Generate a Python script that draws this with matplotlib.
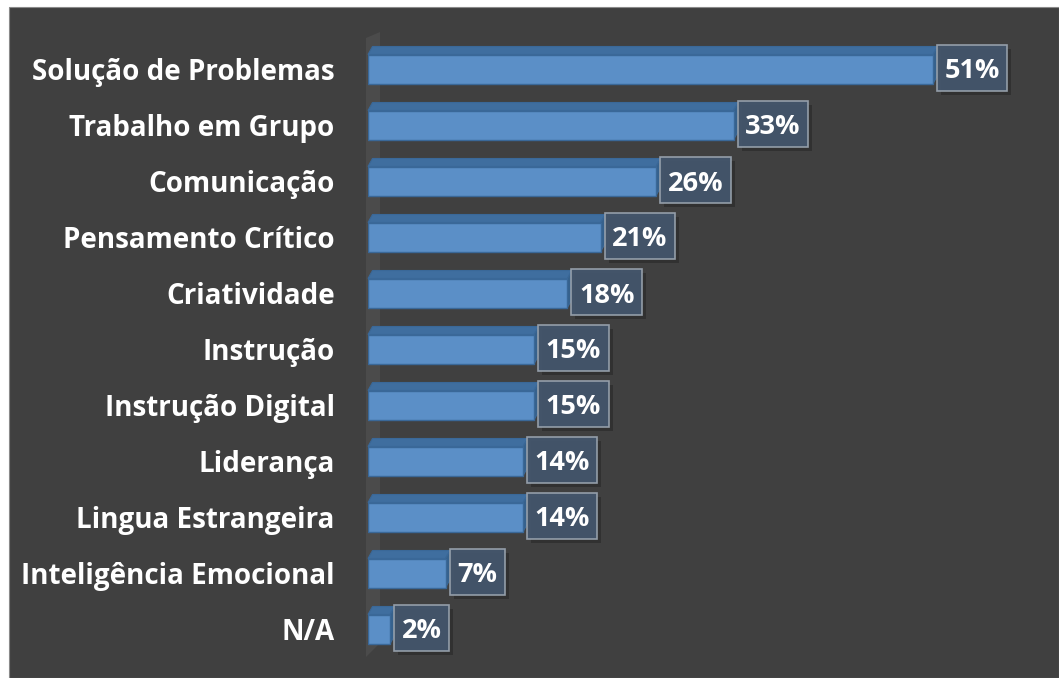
import matplotlib
matplotlib.use("Agg")
import matplotlib.pyplot as plt
from matplotlib.patches import Polygon, Rectangle

# ==========================================================
# Dados
# ==========================================================
categorias = [
    "Solução de Problemas", "Trabalho em Grupo", "Comunicação",
    "Pensamento Crítico", "Criatividade", "Instrução",
    "Instrução Digital", "Liderança", "Lingua Estrangeira",
    "Inteligência Emocional", "N/A",
]
valores = [51, 33, 26, 21, 18, 15, 15, 14, 14, 7, 2]
rotulos = [f"{v}%" for v in valores]

# ==========================================================
# Estilo
# ==========================================================
FUNDO = "#404040"
FRENTE = "#5b8fc7"
TOPO = "#3f6e9f"
LATERAL = "#36618c"
BORDA = "#3a6898"
CAIXA = "#44566c"
plt.rcParams["font.family"] = ["Open Sans", "DejaVu Sans"]

W, H, DPI = 1059, 678, 100
fig = plt.figure(figsize=(W / DPI, H / DPI), dpi=DPI, facecolor="white")
# fundo escuro com margem branca em cima e à esquerda
fig.patches.append(Rectangle((9 / W, 0), 1 - 9 / W, (H - 7) / H,
                             transform=fig.transFigure, facecolor=FUNDO,
                             edgecolor="#8a8a8a", lw=0.8, zorder=-5))

px_x = 11.08   # pixels por ponto percentual
px_y = 56.0    # pixels por categoria
x0, y0 = 368, 69
ax = fig.add_axes([x0 / W, 0, 1 - x0 / W, 1])
ax.set_zorder(2)
ax.set_facecolor("none")
ax.set_xlim(0, (W - x0) / px_x)
ax.set_ylim((H - y0) / px_y, -y0 / px_y)

altura = 29 / px_y
dx = 4.5 / px_x
dy = 8 / px_y

# parede lateral (efeito 3D)
parede = Polygon([(-2 / px_x, (38 - y0) / px_y), (12 / px_x, (32 - y0) / px_y),
                  (12 / px_x, (643 - y0) / px_y), (-2 / px_x, (657 - y0) / px_y)],
                 closed=True, facecolor="#4b4b4b", edgecolor="none",
                 clip_on=False, zorder=1)
ax.add_patch(parede)

for i, v in enumerate(valores):
    topo_y = i - altura / 2
    base_y = i + altura / 2
    ax.add_patch(Polygon([(0, topo_y), (v, topo_y), (v + dx, topo_y - dy), (dx, topo_y - dy)],
                         closed=True, facecolor=TOPO, edgecolor=BORDA, lw=0.8,
                         clip_on=False, zorder=2))
    ax.add_patch(Polygon([(v, topo_y), (v + dx, topo_y - dy), (v + dx, base_y - dy), (v, base_y)],
                         closed=True, facecolor=LATERAL, edgecolor=BORDA, lw=0.8,
                         clip_on=False, zorder=2))

ax.barh(range(len(valores)), valores, height=altura, color=FRENTE,
        edgecolor=BORDA, linewidth=1.0, zorder=3)

ax.set_yticks(range(len(categorias)))
ax.set_yticklabels(categorias, fontsize=20, fontweight="bold", color="white")
ax.tick_params(axis="y", length=0, pad=24)
ax.set_xticks([])
for s in ax.spines.values():
    s.set_visible(False)

# rótulos de dados (texto + caixa desenhada depois de medir o texto)
textos = []
for i, (v, r) in enumerate(zip(valores, rotulos)):
    t = ax.text(v + 11.5 / px_x, i + 9.5 / px_y, r, ha="left", va="baseline",
                fontsize=19.5, fontweight="bold", color="white", zorder=6)
    textos.append(t)

fig.canvas.draw()
for i, t in enumerate(textos):
    bb = t.get_window_extent()
    cy = ax.transData.transform((0, i))[1] + 1
    bx, bw, bh = bb.x0 - 7.5, bb.width + 15, 46
    fig.patches.append(Rectangle((bx + 4, cy - bh / 2 - 4), bw, bh, transform=None,
                                 facecolor="black", alpha=0.22, edgecolor="none", zorder=3))
    fig.patches.append(Rectangle((bx, cy - bh / 2), bw, bh, transform=None,
                                 facecolor=CAIXA, alpha=0.95, edgecolor="#98a2ad",
                                 lw=1.2, zorder=4))
# as caixas ficam acima do eixo, o texto é redesenhado por cima
for t in textos:
    t.remove()
    fig.text(*fig.transFigure.inverted().transform(
        ax.transData.transform(t.get_position())),
        t.get_text(), ha="left", va="baseline", fontsize=19.5,
        fontweight="bold", color="white", zorder=6)

fig.savefig("out.png", dpi=DPI, facecolor="white")
